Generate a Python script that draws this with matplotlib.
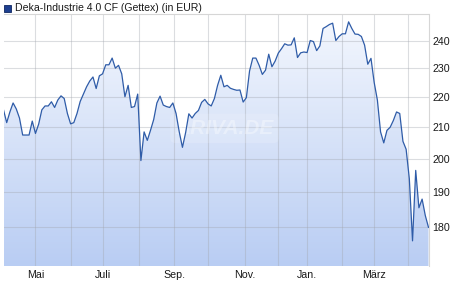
import numpy as np
import pandas as pd
import matplotlib
matplotlib.use("Agg")
from matplotlib import pyplot as plt
from matplotlib.patches import Rectangle
from matplotlib.colors import LinearSegmentedColormap
from matplotlib.ticker import NullLocator

plt.rcParams['font.family'] = ['Liberation Sans', 'DejaVu Sans']

title = "Deka-Industrie 4.0 CF (Gettex) (in EUR)"

# Handelstage (Börse geschlossen an diesen Tagen)
holidays = ["2024-05-01", "2024-12-24", "2024-12-25", "2024-12-26",
            "2024-12-31", "2025-01-01", "2025-04-18", "2025-04-21"]
days = pd.bdate_range("2024-04-03", "2025-04-22")
days = days[~days.isin(pd.to_datetime(holidays))]

# Kurs an jedem zweiten Handelstag
prices = [
    215.7, 211.5, 215.0, 218.0, 216.0, 213.0, 207.5, 207.5, 207.5, 212.0,
    208.0, 211.0, 215.7, 217.0, 217.0, 218.4, 216.5, 219.0, 220.4, 219.5,
    214.5, 211.1, 211.5, 214.5, 218.5, 221.0, 223.5, 225.5, 226.9, 222.9,
    227.3, 228.0, 231.2, 231.2, 233.6, 230.0, 231.0, 228.0, 220.1, 224.0,
    216.5, 216.8, 221.0, 199.5, 208.5, 205.8, 209.0, 212.5, 218.0, 220.3,
    217.3, 216.8, 216.5, 218.0, 214.5, 208.5, 203.6, 208.3, 214.4, 213.0,
    214.5, 215.5, 218.2, 219.2, 217.7, 217.0, 219.5, 224.0, 227.5, 223.5,
    224.0, 223.0, 222.6, 222.3, 222.4, 218.3, 219.8, 229.0, 233.6, 233.6,
    231.0, 227.8, 229.3, 235.0, 230.5, 232.5, 235.4, 237.0, 238.8, 238.3,
    238.4, 241.0, 233.8, 235.5, 235.8, 235.6, 240.0, 239.6, 236.3, 238.0,
    244.5, 245.2, 246.0, 246.5, 240.0, 241.5, 242.5, 242.5, 247.0, 244.5,
    242.4, 242.3, 241.5, 238.3, 231.4, 233.5, 225.0, 219.0, 208.5, 205.0,
    209.0, 210.0, 212.2, 215.0, 214.5, 205.5, 203.0, 194.0, 176.3, 196.5,
    185.5, 188.0, 183.3, 180.0,
]

y_ticks = [180, 190, 200, 210, 220, 230, 240]
month_labels = ["Mai", "", "Juli", "", "Sep.", "", "Nov.", "", "Jan.", "", "März", ""]

x = np.linspace(0, len(days) - 1, len(prices))
month_starts = [i for i in range(1, len(days)) if days[i].month != days[i - 1].month]

fig = plt.figure(figsize=(4.7, 3.0), dpi=100)
ax = fig.add_axes([3.5 / 470, 34 / 300, 425 / 470, 252.5 / 300])

ax.set_yscale('log')

# Flaeche unter der Linie mit Farbverlauf
area = ax.fill_between(x, prices, 100, facecolor='none', edgecolor='none')
cmap = LinearSegmentedColormap.from_list('fade', ['#f5f8fe', '#b9cdf3'])
grad = np.linspace(0, 1, 256).reshape(-1, 1)
im = ax.imshow(grad, extent=(0, 1, 0, 1), transform=ax.transAxes, aspect='auto',
               cmap=cmap, origin='upper', zorder=1)
im.set_clip_path(area.get_paths()[0], transform=ax.transData)

ax.plot(x, prices, color='#2f5ca8', lw=0.9, zorder=3)

ax.set_xlim(0, len(days) - 1)
ax.set_ylim(169.6, 250.2)

ax.set_xticks(month_starts[:len(month_labels)], labels=month_labels)
ax.set_yticks(y_ticks, labels=[str(t) for t in y_ticks])
ax.yaxis.set_minor_locator(NullLocator())
ax.yaxis.tick_right()
ax.tick_params(length=0, labelsize=7.7, colors='#1a1a1a', pad=3)

ax.grid(True, color='#a2a6ae', alpha=0.38, lw=0.8)
ax.set_axisbelow('line')

for side in ['left', 'bottom']:
    ax.spines[side].set_visible(False)
for side in ['top', 'right']:
    ax.spines[side].set_color('#d6d6d6')
    ax.spines[side].set_linewidth(0.8)

# Wasserzeichen
ax.text(0.52, 0.545, "ARIVA.DE", transform=ax.transAxes, ha='center', va='center',
        fontsize=15, fontweight='bold', fontstyle='italic', color='white', alpha=0.35,
        zorder=2,
        bbox=dict(boxstyle='round,pad=0.25', facecolor='white', edgecolor='none', alpha=0.15))

# Legende
fig.patches.append(Rectangle((4 / 470, 1 - 11.5 / 300), 7 / 470, 7 / 300,
                             transform=fig.transFigure, facecolor='#1d3f8f',
                             edgecolor='#0f2660', lw=0.6))
fig.text(15 / 470, 1 - 8 / 300, title, fontsize=7.6, color='#1a1a1a', va='center', ha='left')

fig.savefig('out.png', dpi=100)
